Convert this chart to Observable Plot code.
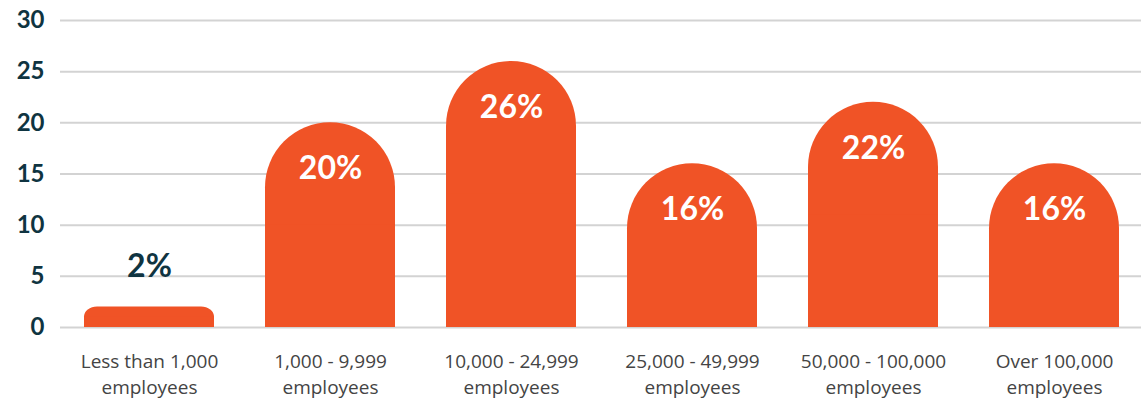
<!DOCTYPE html>
<html>
<head>
<meta charset="utf-8">
<script src="https://cdn.jsdelivr.net/npm/d3@7"></script>
<script src="https://cdn.jsdelivr.net/npm/@observablehq/plot@0.6"></script>
<style>
  html, body { margin: 0; padding: 0; background: #fff; }
</style>
</head>
<body>
<div id="chart"></div>
<script>
const categories = [
  "Less than 1,000 employees",
  "1,000 - 9,999 employees",
  "10,000 - 24,999 employees",
  "25,000 - 49,999 employees",
  "50,000 - 100,000 employees",
  "Over 100,000 employees"
];
const values = [2, 20, 26, 16, 22, 16];
const yTicks = [0, 5, 10, 15, 20, 25, 30];

const data = categories.map((c, i) => ({category: c, value: values[i]}));
const tall = (d) => d.value > 5;
const small = (d) => d.value <= 5;

const orange = "#F05326";
const dark = "#0F3441";

const chart = Plot.plot({
  width: 1141,
  height: 401,
  marginLeft: 60,
  marginRight: 0,
  marginTop: 20,
  marginBottom: 74,
  style: {fontFamily: "Lato, sans-serif", background: "#fff"},
  x: {domain: categories, paddingInner: 0.282, paddingOuter: 0.127, align: 0.52, label: null},
  y: {domain: [0, 30], label: null},
  marks: [
    Plot.ruleY(yTicks, {stroke: "#d3d3d3", strokeWidth: 2}),
    Plot.axisY({ticks: yTicks, tickSize: 0, tickPadding: 16, fontSize: 24, fontWeight: "bold", fill: dark, label: null}),
    Plot.axisX({tickSize: 0, tickPadding: 22, fontSize: 19, fontFamily: "'Open Sans', sans-serif", fill: "#444",
      lineHeight: 1.36, lineAnchor: "top",
      tickFormat: (d) => d.replace(" employees", "\nemployees"), label: null}),
    // tall bars: fully rounded rect + square-off bottom
    Plot.barY(data, {filter: tall, x: "category", y: "value", fill: orange, rx: 65, ry: 65}),
    Plot.barY(data, {filter: tall, x: "category", y1: 0, y2: (d) => d.value / 2, fill: orange}),
    // small bar
    Plot.barY(data, {filter: small, x: "category", y: "value", fill: orange, rx: 13, ry: 13}),
    Plot.barY(data, {filter: small, x: "category", y1: 0, y2: (d) => d.value / 2, fill: orange}),
    Plot.text(data, {filter: tall, x: "category", y: "value", text: (d) => d.value + "%", dy: 46,
      fill: "#fff", fontSize: 32, fontWeight: "bold"}),
    Plot.text(data, {filter: small, x: "category", y: "value", text: (d) => d.value + "%", dy: -40,
      fill: dark, fontSize: 32, fontWeight: "bold"})
  ]
});
document.getElementById("chart").appendChild(chart);
</script>
</body>
</html>
